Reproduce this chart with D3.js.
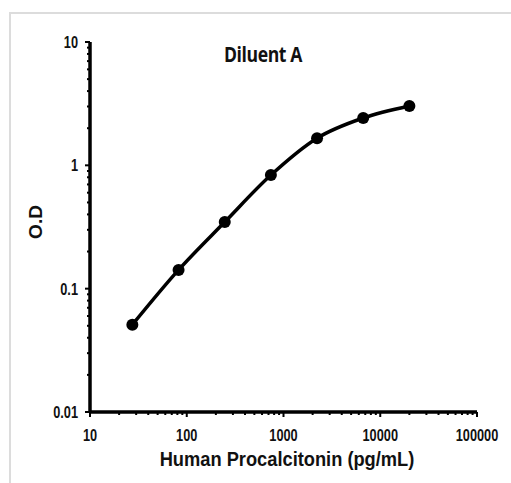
<!DOCTYPE html>
<html>
<head>
<meta charset="UTF-8">
<title>Diluent A</title>
<script src="https://cdn.jsdelivr.net/npm/d3@7"></script>
<style>
  body { margin: 0; background: #fff; }
  svg text { font-family: "Liberation Sans", Arial, sans-serif; font-weight: bold; fill: #111; }
</style>
</head>
<body>
<div id="chart"></div>
<script>
// standard curve, 3-fold dilutions
const conc = [27.4, 82.3, 247, 741, 2222, 6667, 20000];
const od = [0.051, 0.142, 0.347, 0.834, 1.66, 2.42, 3.03];
const xTicks = [10, 100, 1000, 10000, 100000];
const yTicks = [0.01, 0.1, 1, 10];

const W = 511, H = 483;
const svg = d3.select("#chart").append("svg")
  .attr("width", W)
  .attr("height", H);

// light frame
svg.append("path")
  .attr("d", "M10,484 L10,13 L511,13")
  .attr("fill", "none")
  .attr("stroke", "#dcdcdc")
  .attr("stroke-width", 2);

const x = d3.scaleLog().domain([10, 100000]).range([90, 477]);
const y = d3.scaleLog().domain([0.01, 10]).range([412, 42]);

// narrow text: horizontally squeezed
function narrow(sel, px, py, sx) {
  return sel.attr("transform", (d, i) => `translate(${px(d, i)},${py(d, i)}) scale(${sx},1)`);
}

// minor ticks
const minorX = [];
for (let d = 10; d < 100000; d *= 10) for (let k = 2; k <= 9; k++) minorX.push(d * k);
const minorY = [];
for (let d = 0.01; d < 10; d *= 10) for (let k = 2; k <= 9; k++) minorY.push(+(d * k).toPrecision(3));

svg.append("g").selectAll("line").data(minorX).join("line")
  .attr("x1", d => x(d)).attr("x2", d => x(d))
  .attr("y1", 412).attr("y2", 415)
  .attr("stroke", "#000").attr("stroke-width", 2);
svg.append("g").selectAll("line").data(minorY).join("line")
  .attr("y1", d => y(d)).attr("y2", d => y(d))
  .attr("x1", 90).attr("x2", 87)
  .attr("stroke", "#000").attr("stroke-width", 2);

// major ticks
svg.append("g").selectAll("line").data(xTicks).join("line")
  .attr("x1", d => x(d)).attr("x2", d => x(d))
  .attr("y1", 412).attr("y2", 417)
  .attr("stroke", "#000").attr("stroke-width", 2);
svg.append("g").selectAll("line").data(yTicks).join("line")
  .attr("y1", d => y(d)).attr("y2", d => y(d))
  .attr("x1", 90).attr("x2", 85)
  .attr("stroke", "#000").attr("stroke-width", 2);

// axis lines
svg.append("line").attr("x1", 90).attr("x2", 90).attr("y1", 42).attr("y2", 413)
  .attr("stroke", "#000").attr("stroke-width", 3.5);
svg.append("line").attr("x1", 89).attr("x2", 477).attr("y1", 412).attr("y2", 412)
  .attr("stroke", "#000").attr("stroke-width", 3.5);

// tick labels
narrow(svg.append("g").selectAll("text").data(xTicks).join("text"),
    d => x(d), () => 441, 0.75)
  .attr("text-anchor", "middle")
  .attr("font-size", 17)
  .text(d => d);
narrow(svg.append("g").selectAll("text").data(yTicks).join("text"),
    () => 78, d => y(d) + 6, 0.75)
  .attr("text-anchor", "end")
  .attr("font-size", 17)
  .text(d => d);

// axis titles
svg.append("text")
  .attr("transform", "translate(287,466) scale(0.87,1)")
  .attr("text-anchor", "middle")
  .attr("font-size", 21)
  .text("Human Procalcitonin (pg/mL)");
svg.append("text")
  .attr("transform", "translate(42,222) rotate(-90)")
  .attr("text-anchor", "middle")
  .attr("font-size", 19)
  .text("O.D");

svg.append("text")
  .attr("transform", "translate(263,62) scale(0.8,1)")
  .attr("text-anchor", "middle")
  .attr("font-size", 22)
  .style("font-family", "'Open Sans', 'Liberation Sans', sans-serif")
  .style("letter-spacing", "-0.5px")
  .text("Diluent A");

// curve + points
const pts = conc.map((c, i) => [c, od[i]]);
svg.append("path")
  .datum(pts)
  .attr("fill", "none")
  .attr("stroke", "#000")
  .attr("stroke-width", 3.5)
  .attr("d", d3.line().x(d => x(d[0])).y(d => y(d[1])).curve(d3.curveMonotoneX));

svg.append("g").selectAll("circle").data(pts).join("circle")
  .attr("cx", d => x(d[0])).attr("cy", d => y(d[1]))
  .attr("r", 6)
  .attr("fill", "#000");
</script>
</body>
</html>
